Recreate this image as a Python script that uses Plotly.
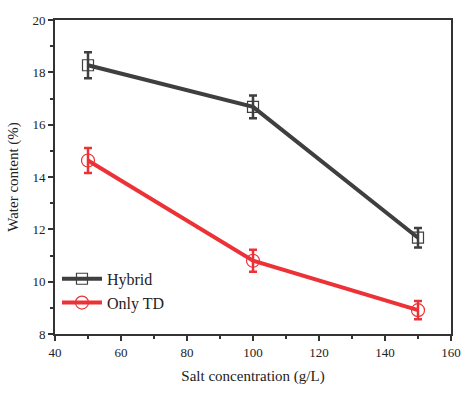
import plotly.graph_objects as go

salt = [50, 100, 150]
hybrid = [18.27, 16.68, 11.68]
hybrid_err = [0.5, 0.43, 0.37]
only_td = [14.63, 10.8, 8.91]
only_td_err = [0.48, 0.42, 0.35]

gray = "#3f3f3f"
red = "#ec3237"

fig = go.Figure()
fig.add_trace(go.Scatter(
    x=salt, y=hybrid, name="Hybrid", mode="lines+markers",
    line=dict(color=gray, width=4),
    marker=dict(symbol="square-open", size=11, color=gray, line=dict(width=1.2)),
    error_y=dict(type="data", array=hybrid_err, color=gray, thickness=2.5, width=4),
))
fig.add_trace(go.Scatter(
    x=salt, y=only_td, name="Only TD", mode="lines+markers",
    line=dict(color=red, width=4),
    marker=dict(symbol="circle-open", size=13, color=red, line=dict(width=1.2)),
    error_y=dict(type="data", array=only_td_err, color=red, thickness=2.5, width=4),
))

font = "Liberation Serif"
axis_common = dict(
    showline=True, linecolor="#333", linewidth=2, mirror=True,
    ticks="outside", ticklen=5, tickwidth=1.5, tickcolor="#333",
    showgrid=False, zeroline=False,
    tickfont=dict(family=font, size=13, color="#222"),
)
fig.update_xaxes(
    range=[40, 160], dtick=20, tick0=40,
    title=dict(text="Salt concentration (g/L)", font=dict(family=font, size=15, color="#222"), standoff=12),
    minor=dict(ticks="outside", ticklen=3, dtick=10, tickcolor="#333", tickwidth=1.5),
    **axis_common,
)
fig.update_yaxes(
    range=[8, 20], dtick=2, tick0=8,
    title=dict(text="Water content (%)", font=dict(family=font, size=15, color="#222"), standoff=10),
    minor=dict(ticks="outside", ticklen=3, dtick=1, tickcolor="#333", tickwidth=1.5),
    **axis_common,
)
fig.update_layout(
    width=474, height=394,
    margin=dict(l=54, r=23, t=20, b=53),
    paper_bgcolor="white", plot_bgcolor="white",
    showlegend=True,
    legend=dict(x=0.005, y=0.045, xanchor="left", yanchor="bottom",
                bgcolor="rgba(0,0,0,0)", itemwidth=40, tracegroupgap=0,
                font=dict(family=font, size=16, color="#222")),
)
fig.write_html("out.html", config={"displayModeBar": False},
               post_script="document.body.style.margin='0';document.body.style.overflow='hidden';")
